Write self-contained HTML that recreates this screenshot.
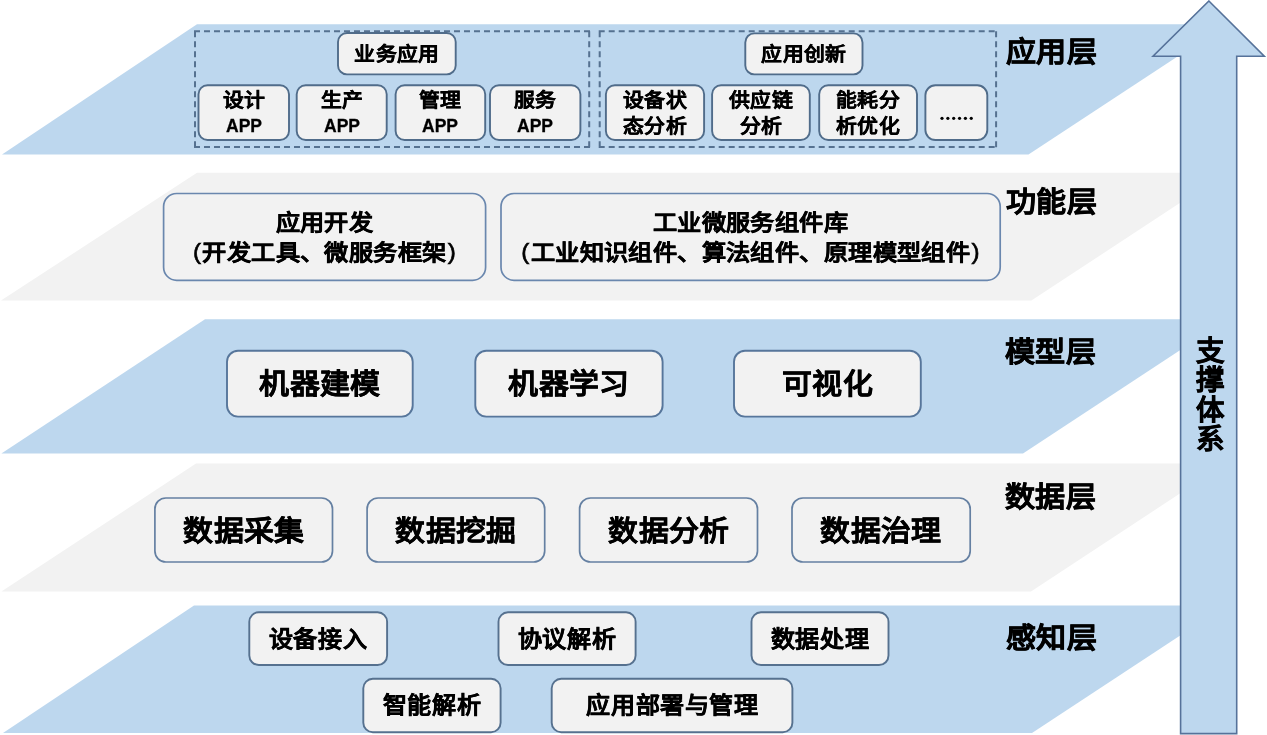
<!DOCTYPE html><html lang="zh-CN"><head><meta charset="utf-8"><style>
html,body{margin:0;padding:0;background:#fff;width:1267px;height:735px;overflow:hidden}
body{position:relative;font-family:"Liberation Sans",sans-serif;font-weight:bold;color:#000}
svg{position:absolute;left:0;top:0}
.b{position:absolute;box-sizing:border-box;display:flex;align-items:center;justify-content:center;text-align:center;white-space:nowrap}
.t{will-change:transform}
.s1{font-size:19.5px;line-height:25.5px}
.s1 .t{-webkit-text-stroke:0.3px #000}
.app{font-size:17.5px;display:inline-block;position:relative;top:-0.2px;transform:scaleX(0.935)}
.s2{font-size:21.8px;line-height:29.6px}
.s2 .t{-webkit-text-stroke:0.35px #000}
.pl,.pr{font-weight:normal;-webkit-text-stroke:0.6px #000;position:relative;top:-1px}.pl{margin-right:1.2px}.pr{margin-left:1.2px}
.s3{font-size:28.5px;line-height:36px}
.s3 .t{-webkit-text-stroke:0.35px #000}
.s5{font-size:22.5px;line-height:28px}
.s5 .t{-webkit-text-stroke:0.35px #000}
.lbl{position:absolute;font-size:28.8px;line-height:34px;white-space:nowrap;-webkit-text-stroke:0.5px #000;will-change:transform;transform-origin:0 0;transform:scaleX(1.045)}
.v{position:absolute;font-size:28.5px;line-height:29.4px;width:34px;text-align:center;-webkit-text-stroke:0.5px #000;will-change:transform}

</style></head><body>
<svg width="1267" height="735" viewBox="0 0 1267 735"><polygon points="197,24.3 1226.6,24.3 1028.5,154.6 2,154.6" fill="#BDD7EE"/><polygon points="197,172.7 1225.8,172.7 1031.4,300.6 1,300.6" fill="#F2F2F2"/><polygon points="205,319.3 1227.1,319.3 1023,453.6 1.4,453.6" fill="#BDD7EE"/><polygon points="196,463.6 1225.4,463.6 1031,591.5 1.4,591.5" fill="#F2F2F2"/><polygon points="194,605.5 1225.8,605.5 1032,733.0 3,733.0" fill="#BDD7EE"/><path d="M194,31.2 H590.2 M195,31.2 V148 M589.2,31.2 V148 M194,147 H590.2" stroke="#557190" stroke-width="2" stroke-dasharray="6 4" fill="none"/><path d="M598.7,31.2 H997.1 M599.7,31.2 V148 M996.1,31.2 V148 M598.7,147 H997.1" stroke="#557190" stroke-width="2" stroke-dasharray="6 4" fill="none"/><polygon points="1208.9,1 1264.3,56.3 1236.7,56.3 1236.7,733.6 1180.6,733.6 1180.6,56.3 1153,56.3" fill="#BDD7EE" stroke="#56729A" stroke-width="1.6" stroke-linejoin="miter"/><rect x="338.00" y="33.00" width="117.70" height="41.40" rx="9" ry="9" fill="#F2F2F2" stroke="#506C8A" stroke-width="1.9"/><rect x="745.30" y="33.40" width="117.20" height="41.00" rx="9" ry="9" fill="#F2F2F2" stroke="#506C8A" stroke-width="1.9"/><rect x="198.50" y="85.30" width="90.50" height="54.70" rx="9" ry="9" fill="#F2F2F2" stroke="#506C8A" stroke-width="1.9"/><rect x="296.70" y="85.30" width="90.00" height="54.70" rx="9" ry="9" fill="#F2F2F2" stroke="#506C8A" stroke-width="1.9"/><rect x="395.60" y="85.30" width="89.60" height="54.70" rx="9" ry="9" fill="#F2F2F2" stroke="#506C8A" stroke-width="1.9"/><rect x="490.00" y="85.30" width="90.40" height="54.70" rx="9" ry="9" fill="#F2F2F2" stroke="#506C8A" stroke-width="1.9"/><rect x="605.90" y="85.30" width="98.20" height="54.70" rx="9" ry="9" fill="#F2F2F2" stroke="#506C8A" stroke-width="1.9"/><rect x="712.10" y="85.30" width="97.70" height="54.70" rx="9" ry="9" fill="#F2F2F2" stroke="#506C8A" stroke-width="1.9"/><rect x="819.20" y="85.30" width="97.80" height="54.70" rx="9" ry="9" fill="#F2F2F2" stroke="#506C8A" stroke-width="1.9"/><rect x="925.40" y="85.30" width="61.90" height="54.70" rx="10" ry="10" fill="#F2F2F2" stroke="#506C8A" stroke-width="1.9"/><rect x="163.60" y="193.50" width="322.00" height="86.80" rx="13" ry="13" fill="#F2F2F2" stroke="#6A87AE" stroke-width="1.7"/><rect x="501.00" y="193.50" width="499.20" height="86.80" rx="13" ry="13" fill="#F2F2F2" stroke="#6A87AE" stroke-width="1.7"/><rect x="227.00" y="350.80" width="185.70" height="65.80" rx="11" ry="11" fill="#F2F2F2" stroke="#57769B" stroke-width="1.9"/><rect x="475.30" y="350.80" width="187.30" height="65.80" rx="11" ry="11" fill="#F2F2F2" stroke="#57769B" stroke-width="1.9"/><rect x="734.00" y="350.80" width="186.80" height="65.80" rx="11" ry="11" fill="#F2F2F2" stroke="#57769B" stroke-width="1.9"/><rect x="154.90" y="498.00" width="177.60" height="64.00" rx="11" ry="11" fill="#F2F2F2" stroke="#6580A2" stroke-width="1.7"/><rect x="367.10" y="498.00" width="177.60" height="64.00" rx="11" ry="11" fill="#F2F2F2" stroke="#6580A2" stroke-width="1.7"/><rect x="579.60" y="498.00" width="177.90" height="64.00" rx="11" ry="11" fill="#F2F2F2" stroke="#6580A2" stroke-width="1.7"/><rect x="792.00" y="498.00" width="178.20" height="64.00" rx="11" ry="11" fill="#F2F2F2" stroke="#6580A2" stroke-width="1.7"/><rect x="249.30" y="612.30" width="137.80" height="52.70" rx="9.5" ry="9.5" fill="#F2F2F2" stroke="#56718F" stroke-width="1.9"/><rect x="498.50" y="612.30" width="137.10" height="52.70" rx="9.5" ry="9.5" fill="#F2F2F2" stroke="#56718F" stroke-width="1.9"/><rect x="751.50" y="612.30" width="137.00" height="52.70" rx="9.5" ry="9.5" fill="#F2F2F2" stroke="#56718F" stroke-width="1.9"/><rect x="363.30" y="678.80" width="137.30" height="53.40" rx="9.5" ry="9.5" fill="#F2F2F2" stroke="#56718F" stroke-width="1.9"/><rect x="551.70" y="678.80" width="240.70" height="53.40" rx="9.5" ry="9.5" fill="#F2F2F2" stroke="#56718F" stroke-width="1.9"/></svg>
<div class="b s1" style="left:338.00px;top:33.00px;width:117.70px;height:41.40px"><div class="t" style="transform:translate(0,1px) scaleX(1.07)">业务应用</div></div>
<div class="b s1" style="left:745.30px;top:33.40px;width:117.20px;height:41.00px"><div class="t" style="transform:translate(0,1px) scaleX(1.07)">应用创新</div></div>
<div class="b s1 two" style="left:198.50px;top:85.30px;width:90.50px;height:54.70px"><div class="t" style="transform:translate(0,0.8px) scaleX(1.07)">设计<br><span class="app">APP</span></div></div>
<div class="b s1 two" style="left:296.70px;top:85.30px;width:90.00px;height:54.70px"><div class="t" style="transform:translate(0,0.8px) scaleX(1.07)">生产<br><span class="app">APP</span></div></div>
<div class="b s1 two" style="left:395.60px;top:85.30px;width:89.60px;height:54.70px"><div class="t" style="transform:translate(0,0.8px) scaleX(1.07)">管理<br><span class="app">APP</span></div></div>
<div class="b s1 two" style="left:490.00px;top:85.30px;width:90.40px;height:54.70px"><div class="t" style="transform:translate(0,0.8px) scaleX(1.07)">服务<br><span class="app">APP</span></div></div>
<div class="b s1 two" style="left:605.90px;top:85.30px;width:98.20px;height:54.70px"><div class="t" style="transform:translate(0,1.1px) scaleX(1.07)">设备状<br>态分析</div></div>
<div class="b s1 two" style="left:712.10px;top:85.30px;width:97.70px;height:54.70px"><div class="t" style="transform:translate(0,1.1px) scaleX(1.07)">供应链<br>分析</div></div>
<div class="b s1 two" style="left:819.20px;top:85.30px;width:97.80px;height:54.70px"><div class="t" style="transform:translate(0,1.1px) scaleX(1.07)">能耗分<br>析优化</div></div>
<div class="b s1" style="left:925.40px;top:85.30px;width:61.90px;height:54.70px"><div class="t" style="transform:translate(0,0px) scaleX(1.07)"></div></div>
<div class="b s2" style="left:163.60px;top:193.50px;width:322.00px;height:86.80px"><div class="t" style="transform:translate(0,1.3px) scaleX(1.11)">应用开发<br><span class="pl">(</span>开发工具、微服务框架<span class="pr">)</span></div></div>
<div class="b s2" style="left:501.00px;top:193.50px;width:499.20px;height:86.80px"><div class="t" style="transform:translate(0,1.3px) scaleX(1.11)">工业微服务组件库<br><span class="pl">(</span>工业知识组件、算法组件、原理模型组件<span class="pr">)</span></div></div>
<div class="b s3" style="left:227.00px;top:350.80px;width:185.70px;height:65.80px"><div class="t" style="transform:translate(0,-0.3px) scaleX(1.05)">机器建模</div></div>
<div class="b s3" style="left:475.30px;top:350.80px;width:187.30px;height:65.80px"><div class="t" style="transform:translate(0,-0.3px) scaleX(1.05)">机器学习</div></div>
<div class="b s3" style="left:734.00px;top:350.80px;width:186.80px;height:65.80px"><div class="t" style="transform:translate(0,-0.3px) scaleX(1.05)">可视化</div></div>
<div class="b s3" style="left:154.90px;top:498.00px;width:177.60px;height:64.00px"><div class="t" style="transform:translate(0,1px) scaleX(1.05)">数据采集</div></div>
<div class="b s3" style="left:367.10px;top:498.00px;width:177.60px;height:64.00px"><div class="t" style="transform:translate(0,1px) scaleX(1.05)">数据挖掘</div></div>
<div class="b s3" style="left:579.60px;top:498.00px;width:177.90px;height:64.00px"><div class="t" style="transform:translate(0,1px) scaleX(1.05)">数据分析</div></div>
<div class="b s3" style="left:792.00px;top:498.00px;width:178.20px;height:64.00px"><div class="t" style="transform:translate(0,1px) scaleX(1.05)">数据治理</div></div>
<div class="b s5" style="left:249.30px;top:612.30px;width:137.80px;height:52.70px"><div class="t" style="transform:translate(0,0.5px) scaleX(1.07)">设备接入</div></div>
<div class="b s5" style="left:498.50px;top:612.30px;width:137.10px;height:52.70px"><div class="t" style="transform:translate(0,0.5px) scaleX(1.07)">协议解析</div></div>
<div class="b s5" style="left:751.50px;top:612.30px;width:137.00px;height:52.70px"><div class="t" style="transform:translate(0,0.5px) scaleX(1.07)">数据处理</div></div>
<div class="b s5" style="left:363.30px;top:678.80px;width:137.30px;height:53.40px"><div class="t" style="transform:translate(0,0.5px) scaleX(1.07)">智能解析</div></div>
<div class="b s5" style="left:551.70px;top:678.80px;width:240.70px;height:53.40px"><div class="t" style="transform:translate(0,0.5px) scaleX(1.07)">应用部署与管理</div></div>
<div class="lbl" style="left:1005.5px;top:35.3px">应用层</div>
<div class="lbl" style="left:1005.5px;top:185.1px">功能层</div>
<div class="lbl" style="left:1005.2px;top:335.0px">模型层</div>
<div class="lbl" style="left:1005.2px;top:479.9px">数据层</div>
<div class="lbl" style="left:1006.0px;top:621.0px">感知层</div>
<div class="v" style="left:1192.5px;top:337.2px">支<br>撑<br>体<br>系</div>
<svg width="1267" height="735" style="position:absolute;left:0;top:0"><circle cx="942.00" cy="118.3" r="1.6" fill="#000"/><circle cx="947.85" cy="118.3" r="1.6" fill="#000"/><circle cx="953.70" cy="118.3" r="1.6" fill="#000"/><circle cx="959.55" cy="118.3" r="1.6" fill="#000"/><circle cx="965.40" cy="118.3" r="1.6" fill="#000"/><circle cx="971.25" cy="118.3" r="1.6" fill="#000"/></svg>
</body></html>
